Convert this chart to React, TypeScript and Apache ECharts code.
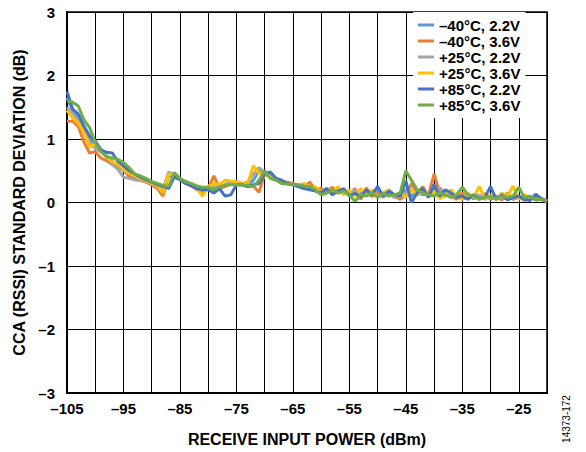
import React, { useEffect, useRef } from "react";
import * as echarts from "echarts";

const xValues: number[] = [];
for (let x = -105; x <= -20; x++) xValues.push(x);

const seriesNames = [
  "–40°C, 2.2V",
  "–40°C, 3.6V",
  "+25°C, 2.2V",
  "+25°C, 3.6V",
  "+85°C, 2.2V",
  "+85°C, 3.6V",
];
const seriesColors = ["#5B9BD5", "#ED7D31", "#A5A5A5", "#FFC000", "#4472C4", "#70AD47"];

const m40_22 = [
  1.65, 1.45, 1.35, 1.2, 1.0, 0.9, 0.82, 0.74, 0.65, 0.58,
  0.5, 0.45, 0.4, 0.36, 0.33, 0.3, 0.26, 0.22, 0.42, 0.42,
  0.37, 0.3, 0.27, 0.23, 0.2, 0.22, 0.24, 0.22, 0.28, 0.3,
  0.32, 0.3, 0.28, 0.35, 0.5, 0.46, 0.42, 0.38, 0.34, 0.3,
  0.28, 0.26, 0.23, 0.22, 0.2, 0.2, 0.18, 0.16, 0.2, 0.15,
  0.18, 0.12, 0.15, 0.16, 0.1, 0.2, 0.12, 0.15, 0.08, 0.12,
  0.2, 0.1, 0.18, 0.12, 0.15, 0.2, 0.12, 0.1, 0.15, 0.1,
  0.08, 0.12, 0.06, 0.1, 0.12, 0.05, 0.1, 0.08, 0.06, 0.1,
  0.06, 0.1, 0.05, 0.08, 0.04, 0.02,
];
const m40_36 = [
  1.28, 1.28, 1.2, 0.95, 0.78, 0.8, 0.7, 0.66, 0.6, 0.58,
  0.55, 0.4, 0.36, 0.35, 0.32, 0.28, 0.22, 0.1, 0.44, 0.42,
  0.38, 0.32, 0.27, 0.2, 0.17, 0.22, 0.42, 0.22, 0.25, 0.3,
  0.32, 0.28, 0.25, 0.26, 0.16, 0.45, 0.4, 0.36, 0.34, 0.32,
  0.3, 0.27, 0.25, 0.32, 0.2, 0.22, 0.18, 0.24, 0.15, 0.2,
  0.12, 0.22, 0.05, 0.23, 0.1, 0.15, 0.08, 0.2, 0.1, 0.05,
  0.12, 0.3, 0.15, 0.25, 0.1, 0.45, 0.15, 0.18, 0.1, 0.05,
  0.15, 0.08, 0.12, 0.05, 0.14, 0.06, 0.1, 0.04, 0.12, 0.05,
  0.1, 0.03, 0.08, 0.05, 0.06, 0.02,
];
const p25_22 = [
  1.5, 1.4, 1.3, 1.15, 0.95, 0.85, 0.8, 0.72, 0.6, 0.52,
  0.4, 0.38, 0.36, 0.35, 0.33, 0.3, 0.25, 0.2, 0.48, 0.44,
  0.38, 0.3, 0.26, 0.24, 0.2, 0.22, 0.25, 0.24, 0.28, 0.32,
  0.33, 0.3, 0.32, 0.45, 0.55, 0.48, 0.42, 0.36, 0.32, 0.3,
  0.28, 0.25, 0.22, 0.24, 0.2, 0.18, 0.2, 0.15, 0.22, 0.18,
  0.15, 0.2, 0.12, 0.18, 0.15, 0.22, 0.1, 0.18, 0.12, 0.08,
  0.15, 0.2, 0.12, 0.15, 0.1, 0.12, 0.23, 0.15, 0.08, 0.1,
  0.05, 0.1, 0.08, 0.12, 0.05, 0.1, 0.06, 0.08, 0.15, 0.05,
  0.08, 0.05, 0.1, 0.04, 0.05, 0.02,
];
const p25_36 = [
  1.45, 1.33, 1.25, 1.1, 0.88, 0.92, 0.82, 0.72, 0.64, 0.6,
  0.52, 0.46, 0.42, 0.38, 0.34, 0.3, 0.26, 0.15, 0.45, 0.43,
  0.36, 0.3, 0.26, 0.22, 0.1, 0.25, 0.3, 0.28, 0.35, 0.34,
  0.32, 0.3, 0.3, 0.58, 0.46, 0.44, 0.4, 0.36, 0.33, 0.3,
  0.28, 0.27, 0.3, 0.22, 0.25, 0.15, 0.22, 0.18, 0.25, 0.12,
  0.2, 0.1, 0.22, 0.12, 0.2, 0.08, 0.15, 0.2, 0.1, 0.15,
  0.08, 0.2, 0.12, 0.22, 0.1, 0.18, 0.06, 0.12, 0.2, 0.08,
  0.05, 0.15, 0.08, 0.25, 0.06, 0.12, 0.05, 0.15, 0.1, 0.26,
  0.05, 0.12, 0.08, 0.04, 0.06, 0.02,
];
const p85_22 = [
  1.75, 1.47, 1.39, 1.2, 1.05, 0.97, 0.83, 0.79, 0.78, 0.65,
  0.58, 0.5, 0.45, 0.4, 0.36, 0.32, 0.28, 0.26, 0.22, 0.4,
  0.36, 0.3, 0.26, 0.22, 0.2, 0.2, 0.15, 0.22, 0.1, 0.12,
  0.28, 0.28, 0.25, 0.28, 0.3, 0.45, 0.48, 0.38, 0.35, 0.3,
  0.28, 0.25, 0.22, 0.2, 0.18, 0.15, 0.22, 0.12, 0.18, 0.22,
  0.1, 0.15, 0.08, 0.2, 0.12, 0.25, 0.1, 0.18, 0.12, 0.1,
  0.34, 0.0, 0.15, 0.22, 0.08, 0.28, 0.1, 0.2, 0.15, 0.08,
  0.1, 0.05, 0.12, 0.06, 0.08, 0.25, 0.05, 0.12, 0.04, 0.08,
  0.1, 0.05, 0.03, 0.13, 0.06, 0.02,
];
const p85_36 = [
  1.6, 1.58, 1.52, 1.3, 1.18, 0.95, 0.8, 0.72, 0.7, 0.68,
  0.63, 0.55, 0.45, 0.42, 0.38, 0.33, 0.3, 0.27, 0.25, 0.47,
  0.38, 0.33, 0.3, 0.26, 0.24, 0.24, 0.2, 0.25, 0.27, 0.28,
  0.28, 0.27, 0.27, 0.25, 0.35, 0.5, 0.38, 0.35, 0.3, 0.29,
  0.28, 0.28, 0.26, 0.25, 0.2, 0.12, 0.15, 0.2, 0.15, 0.18,
  0.12, 0.02, 0.12, 0.1, 0.15, 0.08, 0.14, 0.1, 0.12, 0.15,
  0.5, 0.35, 0.2, 0.15, 0.12, 0.1, 0.15, 0.12, 0.08, 0.12,
  0.24, 0.12, 0.1, 0.05, 0.08, 0.1, 0.05, 0.1, 0.08, 0.1,
  0.24, 0.08, 0.1, 0.04, 0.05, 0.02,
];

const seriesData = [m40_22, m40_36, p25_22, p25_36, p85_22, p85_36];

const xLabelValues = [-105, -95, -85, -75, -65, -55, -45, -35, -25];
const FONT = 'Arial, "Liberation Sans", sans-serif';

const fmt = (v: number) => (v < 0 ? "–" + Math.abs(v) : String(v));

export default function App() {
  const ref = useRef<HTMLDivElement>(null);
  useEffect(() => {
    if (!ref.current) return;
    const chart = echarts.init(ref.current, null, { renderer: "svg" });
    chart.setOption({
      animation: false,
      backgroundColor: "#fff",
      grid: {
        left: 67,
        top: 12,
        right: 39,
        bottom: 57,
        show: true,
        borderColor: "#000",
        borderWidth: 1.5,
      },
      legend: {
        orient: "vertical",
        left: 413,
        top: 12,
        padding: [5, 5, 5, 5],
        backgroundColor: "#fff",
        itemGap: 0,
        itemWidth: 16,
        itemHeight: 3,
        icon: "rect",
        textStyle: {
          fontFamily: FONT,
          fontWeight: "bold",
          fontSize: 15,
          color: "#000",
          lineHeight: 16,
          padding: [0, 0, 0, 0],
        },
        data: seriesNames,
      },
      xAxis: {
        type: "value",
        min: -105,
        max: -20,
        interval: 5,
        name: "RECEIVE INPUT POWER (dBm)",
        nameLocation: "middle",
        nameGap: 38,
        nameTextStyle: { fontFamily: FONT, fontWeight: "bold", fontSize: 16, color: "#000" },
        axisLine: { show: true, onZero: false, lineStyle: { color: "#000", width: 2 } },
        axisTick: { show: false },
        splitLine: { show: true, lineStyle: { color: "#000", width: 1 } },
        axisLabel: {
          margin: 8,
          fontFamily: FONT,
          fontWeight: "bold",
          fontSize: 15,
          color: "#000",
          formatter: (v: number) => (xLabelValues.includes(v) ? fmt(v) : ""),
        },
      },
      yAxis: {
        type: "value",
        min: -3,
        max: 3,
        interval: 1,
        name: "CCA (RSSI) STANDARD DEVIATION (dB)",
        nameLocation: "middle",
        nameGap: 37,
        nameTextStyle: { fontFamily: FONT, fontWeight: "bold", fontSize: 16, color: "#000" },
        axisLine: { show: true, onZero: false, lineStyle: { color: "#000", width: 2 } },
        axisTick: { show: false },
        splitLine: { show: true, lineStyle: { color: "#000", width: 1 } },
        axisLabel: {
          margin: 12,
          fontFamily: FONT,
          fontWeight: "bold",
          fontSize: 15,
          color: "#000",
          formatter: (v: number) => fmt(v),
        },
      },
      graphic: [
        {
          type: "text",
          x: 566,
          y: 419,
          rotation: Math.PI / 2,
          style: {
            text: "14373-172",
            fontFamily: FONT,
            fontSize: 10,
            fill: "#000",
            align: "center",
            verticalAlign: "middle",
          },
        },
      ],
      series: seriesNames.map((name, i) => ({
        name,
        type: "line",
        data: xValues.map((x, j) => [x, seriesData[i][j]]),
        showSymbol: false,
        symbol: "none",
        lineStyle: { color: seriesColors[i], width: 3 },
        itemStyle: { color: seriesColors[i] },
        z: 2 + i,
      })),
    });
    return () => chart.dispose();
  }, []);
  return <div ref={ref} style={{ width: 586, height: 452, position: "absolute", left: 0, top: 0 }} />;
}
